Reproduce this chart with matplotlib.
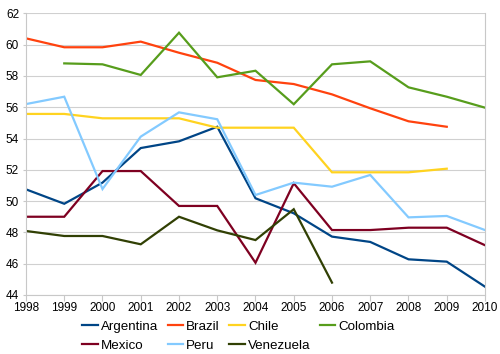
import matplotlib
matplotlib.use("Agg")
import matplotlib.pyplot as plt
import numpy as np

years = list(range(1998, 2011))

argentina = [50.75, 49.83, 51.18, 53.39, 53.82, 54.75, 50.18, 49.22, 47.73, 47.39, 46.28, 46.13, 44.53]
brazil = [60.40, 59.83, 59.83, 60.19, 59.48, 58.84, 57.74, 57.48, 56.82, 55.93, 55.10, 54.75, None]
chile = [55.57, 55.57, 55.29, 55.29, 55.29, 54.69, 54.69, 54.69, 51.84, 51.84, 51.84, 52.07, None]
colombia = [None, 58.80, 58.74, 58.06, 60.76, 57.91, 58.33, 56.19, 58.74, 58.93, 57.27, 56.67, 55.97]
mexico = [49.00, 49.00, 51.92, 51.92, 49.69, 49.69, 46.06, 51.14, 48.15, 48.15, 48.30, 48.30, 47.18]
peru = [56.20, 56.67, 50.77, 54.12, 55.67, 55.23, 50.39, 51.18, 50.92, 51.67, 48.96, 49.05, 48.15]
venezuela = [48.09, 47.77, 47.77, 47.24, 49.00, 48.13, 47.51, 49.48, 44.79, None, None, None, None]

series = [
    ("Argentina", argentina, "#004586"),
    ("Brazil", brazil, "#ff420e"),
    ("Chile", chile, "#ffd320"),
    ("Colombia", colombia, "#579d1c"),
    ("Mexico", mexico, "#7e0021"),
    ("Peru", peru, "#83caff"),
    ("Venezuela", venezuela, "#314004"),
]

plt.rcParams['font.family'] = ['Liberation Sans', 'DejaVu Sans']

fig = plt.figure(figsize=(5.0, 3.54), dpi=100)
ax = fig.add_axes([0.052, 0.1667, 0.918, 0.7957])

handles = {}
for name, vals, col in series:
    y = np.array([np.nan if v is None else v for v in vals], dtype=float)
    (ln,) = ax.plot(years, y, color=col, lw=1.6, label=name, solid_joinstyle='miter')
    handles[name] = ln

ax.set_xlim(1998, 2010)
ax.set_ylim(44, 62)
ax.set_xticks(years)
ax.set_yticks(range(44, 63, 2))
ax.grid(axis='y', color='#d0d0d0', lw=0.8)
ax.set_axisbelow(True)
for s in ['left', 'bottom', 'right', 'top']:
    ax.spines[s].set_color('#c8c8c8')
    ax.spines[s].set_linewidth(0.8)
ax.spines['top'].set_visible(False)
ax.tick_params(axis='both', labelsize=8.5, color='#c8c8c8', width=0.8)
ax.tick_params(axis='x', length=4, pad=1)
ax.tick_params(axis='y', length=2, pad=3)

order = ["Argentina", "Mexico", "Brazil", "Peru", "Chile", "Venezuela", "Colombia"]
fig.legend([handles[n] for n in order], order,
           loc='upper center', bbox_to_anchor=(0.477, 0.094), ncol=4, frameon=False,
           fontsize=9.6, handlelength=1.15, handletextpad=0.25, columnspacing=0.7,
           labelspacing=0.5, borderaxespad=0, borderpad=0)

fig.savefig("out.png", dpi=100)
